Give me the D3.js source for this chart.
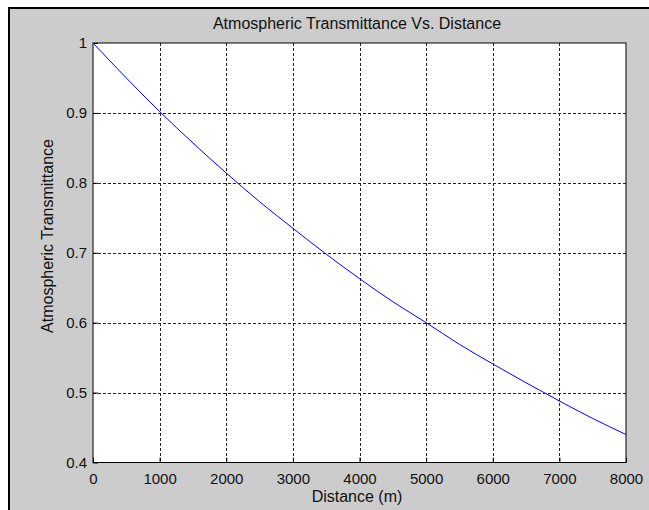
<!DOCTYPE html>
<html>
<head>
<meta charset="utf-8">
<script src="https://cdn.jsdelivr.net/npm/d3@7"></script>
<style>
  body { margin: 0; background: #ffffff; }
  svg { display: block; }
</style>
</head>
<body>
<div id="chart"></div>
<script>
// distance (m) and transmittance
const distance = [0, 500, 1000, 1500, 2000, 2500, 3000, 3500, 4000, 4500, 5000, 5500, 6000, 6500, 7000, 7500, 8000];
const transmittance = [1, 0.95, 0.902, 0.857, 0.814, 0.773, 0.735, 0.698, 0.663, 0.630, 0.600, 0.569, 0.541, 0.514, 0.488, 0.463, 0.440];
const xTicks = [0, 1000, 2000, 3000, 4000, 5000, 6000, 7000, 8000];
const yTicks = [0.4, 0.5, 0.6, 0.7, 0.8, 0.9, 1];

const W = 649, H = 510;
const font = "'Liberation Sans', Arial, sans-serif";

const svg = d3.select('#chart')
    .append('svg')
    .attr("width", W)
    .attr("height", H);

// figure background + frame
svg.append("rect")
    .attr("x", 9)
    .attr("y", 8)
    .attr("width", W)
    .attr("height", H)
    .style("fill", "#cccccc")
    .style("stroke", "#000000")
    .style("stroke-width", 2);

const pLeft = 93, pRight = 626, pTop = 43, pBottom = 462.5;

const x = d3.scaleLinear().domain([0, 8000]).range([pLeft, pRight]);
const y = d3.scaleLinear().domain([0.4, 1]).range([pBottom, pTop]);

// plot area
svg.append("rect")
    .attr("x", pLeft)
    .attr("y", pTop)
    .attr("width", pRight - pLeft)
    .attr("height", pBottom - pTop)
    .style("fill", "#ffffff");

// grid
svg.append("g")
    .selectAll("line")
    .data(xTicks.slice(1, -1))
    .join("line")
    .attr("x1", d => Math.round(x(d)) + 0.5)
    .attr("x2", d => Math.round(x(d)) + 0.5)
    .attr("y1", pTop)
    .attr("y2", pBottom)
    .style("stroke", "#222")
    .style("stroke-dasharray", "3,2");

svg.append("g")
    .selectAll("line")
    .data(yTicks.slice(1, -1))
    .join("line")
    .attr("y1", d => Math.round(y(d)) + 0.5)
    .attr("y2", d => Math.round(y(d)) + 0.5)
    .attr("x1", pLeft)
    .attr("x2", pRight)
    .style("stroke", "#222")
    .style("stroke-dasharray", "3,2");

// axes (ticks inside, MATLAB-like)
const xAxis = svg.append("g")
    .attr("transform", `translate(0,${pBottom})`)
    .call(d3.axisBottom(x).tickValues(xTicks).tickSizeInner(-5).tickSizeOuter(0).tickPadding(11).tickFormat(d3.format("d")));
const yAxis = svg.append("g")
    .attr("transform", `translate(${pLeft},0)`)
    .call(d3.axisLeft(y).tickValues(yTicks).tickSizeInner(-5).tickSizeOuter(0).tickPadding(6).tickFormat(d => String(d)));

[xAxis, yAxis].forEach(a => {
    a.select(".domain").remove();
    a.selectAll("line").style("stroke", "#000");
    a.selectAll("text")
        .style("font-family", font)
        .style("font-size", "15px")
        .style("fill", "#111");
});

// box
svg.append("rect")
    .attr("x", pLeft)
    .attr("y", pTop)
    .attr("width", pRight - pLeft)
    .attr("height", pBottom - pTop)
    .style("fill", "none")
    .style("stroke", "#000")
    .style("stroke-width", 1);

// curve
const line = d3.line()
    .x((d, i) => x(distance[i]))
    .y(d => y(d))
    .curve(d3.curveMonotoneX);

svg.append("path")
    .datum(transmittance)
    .attr("d", line)
    .style("fill", "none")
    .style("stroke", "#0000ff")
    .style("stroke-width", 1);

// title and labels
svg.append("text")
    .text("Atmospheric Transmittance Vs. Distance")
    .attr("x", 357)
    .attr("y", 29)
    .attr("text-anchor", "middle")
    .style("font-family", font)
    .style("font-size", "16px")
    .style("fill", "#111");

svg.append("text")
    .text("Distance (m)")
    .attr("x", 357)
    .attr("y", 502)
    .attr("text-anchor", "middle")
    .style("font-family", font)
    .style("font-size", "16px")
    .style("fill", "#111");

svg.append("text")
    .text("Atmospheric Transmittance")
    .attr("transform", "translate(53,236) rotate(-90)")
    .attr("text-anchor", "middle")
    .style("font-family", font)
    .style("font-size", "16px")
    .style("fill", "#111");
</script>
</body>
</html>
